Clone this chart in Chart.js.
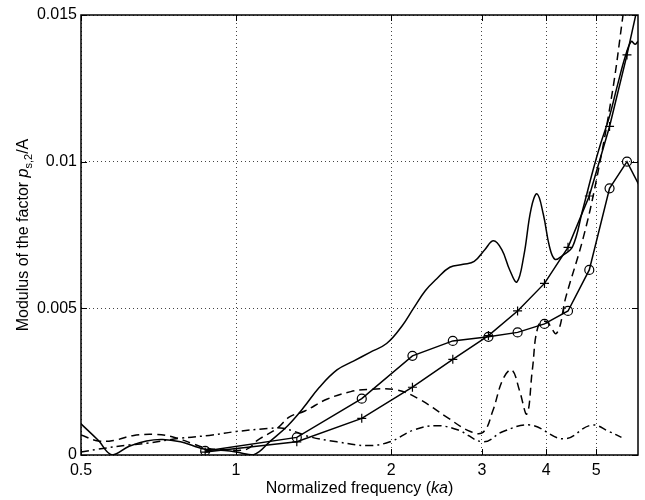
<!DOCTYPE html>
<html>
<head>
<meta charset="utf-8">
<script src="https://cdn.jsdelivr.net/npm/chart.js@4"></script>
<style>
  html, body { margin: 0; padding: 0; background: #fff; }
  #wrap { width: 645px; height: 500px; }
</style>
</head>
<body>
<div id="wrap"><canvas id="chart"></canvas></div>
<script>
// plain solid curve
const solidX = [0.5, 0.54, 0.575, 0.62, 0.67, 0.72, 0.78, 0.83, 0.87, 0.95, 1.0, 1.08, 1.17, 1.26, 1.35, 1.45, 1.57, 1.69, 1.82, 1.96, 2.1, 2.21, 2.33, 2.45, 2.6, 2.76, 2.9, 3.04, 3.16, 3.28, 3.4, 3.51, 3.62, 3.74, 3.84, 3.95, 4.06, 4.16, 4.3, 4.5, 4.7, 4.93, 5.1, 5.3, 5.5, 5.7, 5.85, 5.95, 6.03];
const solidY = [0.00106, 0.0005, 0.0, 0.0003, 0.00048, 0.00053, 0.00045, 0.0003, 0.0002, 0.00015, 0.0001, 0.0, 0.0005, 0.001, 0.0016, 0.0023, 0.0029, 0.0032, 0.0035, 0.0038, 0.0044, 0.005, 0.0056, 0.006, 0.0064, 0.0065, 0.0066, 0.007, 0.0073, 0.007, 0.0063, 0.0059, 0.0068, 0.0084, 0.0089, 0.0082, 0.0071, 0.00667, 0.0068, 0.0071, 0.0083, 0.0097, 0.0106, 0.0115, 0.0126, 0.0136, 0.0141, 0.014, 0.0141];

// dashed curve
const dashX = [0.5, 0.54, 0.58, 0.63, 0.7, 0.76, 0.82, 0.87, 0.95, 1.05, 1.1, 1.2, 1.27, 1.36, 1.5, 1.67, 1.82, 2.05, 2.27, 2.56, 2.85, 3.02, 3.15, 3.3, 3.43, 3.55, 3.67, 3.76, 3.86, 4.0, 4.19, 4.37, 4.72, 5.01, 5.38, 5.64, 5.9];
const dashY = [0.00068, 0.00048, 0.0005, 0.00066, 0.0007, 0.0006, 0.0004, 0.00025, 0.00018, 0.0002, 0.0005, 0.0009, 0.0013, 0.0015, 0.0019, 0.00216, 0.00224, 0.00222, 0.0019, 0.0013, 0.0008, 0.00078, 0.0015, 0.0026, 0.0029, 0.0022, 0.0014, 0.0029, 0.0044, 0.00455, 0.00415, 0.0054, 0.0074, 0.0094, 0.0124, 0.015, 0.0175];

// dash-dot curve
const dotX = [0.5, 0.54, 0.62, 0.67, 0.78, 0.9, 1.0, 1.15, 1.22, 1.3, 1.39, 1.57, 1.8, 1.99, 2.21, 2.45, 2.7, 3.02, 3.3, 3.73, 4.33, 4.9, 5.3, 5.6];
const dotY = [0.0001, 0.0002, 0.00034, 0.0004, 0.00057, 0.00068, 0.0008, 0.0009, 0.00092, 0.0008, 0.00062, 0.00045, 0.00032, 0.00045, 0.00085, 0.001, 0.00085, 0.00045, 0.0008, 0.00102, 0.00055, 0.00102, 0.0008, 0.0006];

// marker curves share the same ka samples
const markX = [0.871, 1.312, 1.754, 2.2, 2.635, 3.09, 3.52, 3.97, 4.41, 4.85, 5.31, 5.74, 6.18];
const circleY = [0.00014, 0.0006, 0.00192, 0.00338, 0.00389, 0.00403, 0.00418, 0.00447, 0.00491, 0.00631, 0.00909, 0.0100, 0.0089];
const plusY = [0.0001, 0.00045, 0.00125, 0.00231, 0.00326, 0.00407, 0.00491, 0.00585, 0.00708, 0.00883, 0.0112, 0.01364, 0.0162];

const xTicks = [0.5, 1, 2, 3, 4, 5];
const yTicks = [0, 0.005, 0.01, 0.015];

const FONT = '"Liberation Sans", Arial, sans-serif';

function pts(xs, ys) {
  return xs.map((x, i) => ({ x: x, y: ys[i] }));
}

// frame, inward ticks and axis titles (matlab look)
const framePlugin = {
  id: 'framePlugin',
  afterDatasetsDraw(chart) {
    const ctx = chart.ctx;
    const a = chart.chartArea;
    const sx = chart.scales.x;
    const sy = chart.scales.y;
    ctx.save();
    ctx.strokeStyle = '#000';
    ctx.lineWidth = 1.5;
    ctx.strokeRect(a.left, a.top, a.right - a.left, a.bottom - a.top);

    ctx.lineWidth = 1;
    const len = 6;
    ctx.beginPath();
    xTicks.forEach(v => {
      const px = Math.round(sx.getPixelForValue(v)) + 0.5;
      ctx.moveTo(px, a.bottom); ctx.lineTo(px, a.bottom - len);
      ctx.moveTo(px, a.top); ctx.lineTo(px, a.top + len);
    });
    yTicks.forEach(v => {
      const py = Math.round(sy.getPixelForValue(v)) + 0.5;
      ctx.moveTo(a.left, py); ctx.lineTo(a.left + len, py);
      ctx.moveTo(a.right, py); ctx.lineTo(a.right - len, py);
    });
    ctx.stroke();

    // x title
    ctx.fillStyle = '#000';
    ctx.textBaseline = 'alphabetic';
    const xParts = [
      ['Normalized frequency (', '16px ' + FONT],
      ['ka', 'italic 16px ' + FONT],
      [')', '16px ' + FONT]
    ];
    let w = 0;
    xParts.forEach(p => { ctx.font = p[1]; w += ctx.measureText(p[0]).width; });
    let cx = (a.left + a.right) / 2 - w / 2;
    xParts.forEach(p => {
      ctx.font = p[1];
      ctx.fillText(p[0], cx, 493);
      cx += ctx.measureText(p[0]).width;
    });

    // y title, rotated, with subscript
    const yParts = [
      ['Modulus of the factor ', '16px ' + FONT, 0],
      ['p', 'italic 16px ' + FONT, 0],
      ['s,2', '11px ' + FONT, 4],
      ['/A', '16px ' + FONT, 0]
    ];
    ctx.translate(28, (a.top + a.bottom) / 2);
    ctx.rotate(-Math.PI / 2);
    w = 0;
    yParts.forEach(p => { ctx.font = p[1]; w += ctx.measureText(p[0]).width; });
    cx = -w / 2;
    yParts.forEach(p => {
      ctx.font = p[1];
      ctx.fillText(p[0], cx, p[2]);
      cx += ctx.measureText(p[0]).width;
    });
    ctx.restore();
  }
};

const lineBase = {
  borderColor: '#000',
  backgroundColor: '#000',
  borderWidth: 1.5,
  pointRadius: 0,
  fill: false
};

new Chart(document.getElementById('chart'), {
  type: 'line',
  data: {
    datasets: [
      Object.assign({}, lineBase, { label: 'solid', data: pts(solidX, solidY), tension: 0.4 }),
      Object.assign({}, lineBase, { label: 'dashed', data: pts(dashX, dashY), tension: 0.4, borderDash: [8, 5] }),
      Object.assign({}, lineBase, { label: 'dashdot', data: pts(dotX, dotY), tension: 0.4, borderDash: [8, 4, 2, 4] }),
      Object.assign({}, lineBase, {
        label: 'circles', data: pts(markX, circleY), tension: 0,
        pointRadius: 4.5, pointStyle: 'circle', pointBorderWidth: 1.2,
        pointBackgroundColor: 'rgba(0,0,0,0)', pointBorderColor: '#000'
      }),
      Object.assign({}, lineBase, {
        label: 'plus', data: pts(markX, plusY), tension: 0,
        pointRadius: 4.5, pointStyle: 'cross', pointBorderWidth: 1.2,
        pointBorderColor: '#000'
      })
    ]
  },
  options: {
    responsive: true,
    maintainAspectRatio: false,
    animation: false,
    layout: { padding: { top: 15, right: 7, left: 0, bottom: 0 } },
    plugins: {
      legend: { display: false },
      tooltip: { enabled: false }
    },
    scales: {
      x: {
        type: 'logarithmic',
        min: 0.5,
        max: 6.03,
        afterBuildTicks: (scale) => { scale.ticks = xTicks.map(v => ({ value: v })); },
        afterFit: (scale) => { scale.height = 45; },
        ticks: {
          color: '#000',
          font: { family: FONT, size: 16 },
          padding: 6,
          maxRotation: 0,
          autoSkip: false,
          callback: (v) => String(v)
        },
        grid: { color: '#444', lineWidth: 1, drawTicks: false },
        border: { display: false, dash: [1, 3] }
      },
      y: {
        type: 'linear',
        min: 0,
        max: 0.015,
        afterBuildTicks: (scale) => { scale.ticks = yTicks.map(v => ({ value: v })); },
        afterFit: (scale) => { scale.width = 81; },
        ticks: {
          color: '#000',
          font: { family: FONT, size: 16 },
          padding: 4,
          callback: (v) => String(+v.toFixed(3))
        },
        grid: { color: '#444', lineWidth: 1, drawTicks: false },
        border: { display: false, dash: [1, 3] }
      }
    }
  },
  plugins: [framePlugin]
});
</script>
</body>
</html>
